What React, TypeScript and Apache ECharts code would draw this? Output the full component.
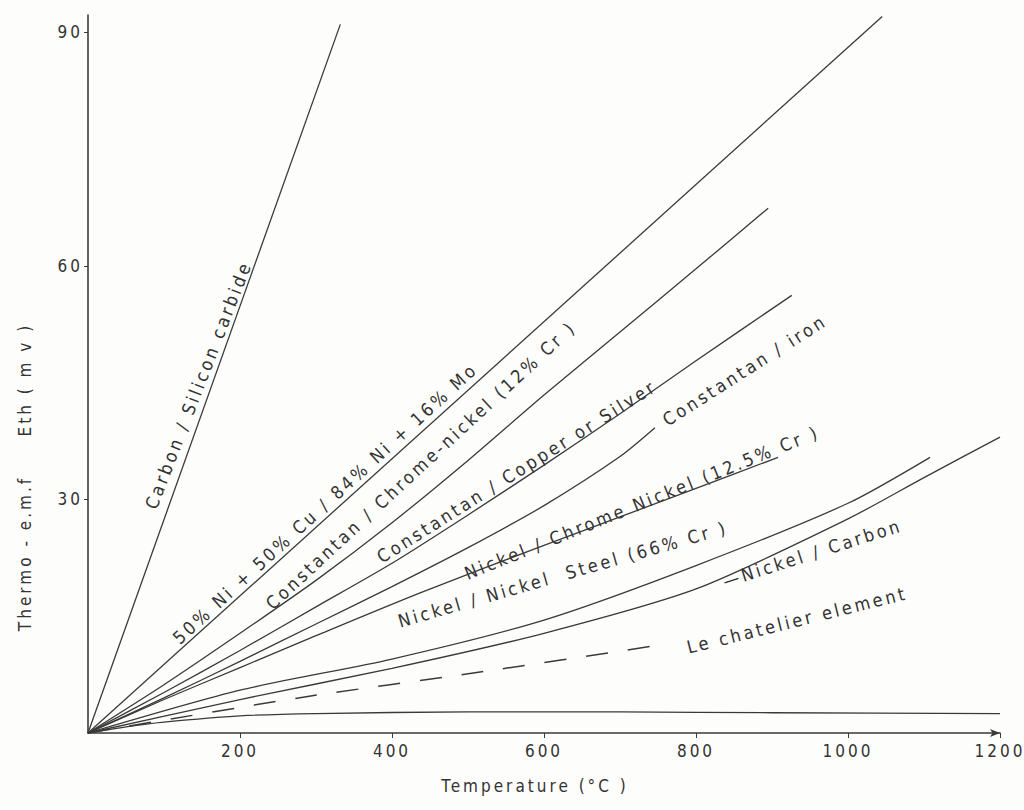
import React, { useEffect, useRef } from "react";
import * as echarts from "echarts";

// ---- data (temperature °C, thermo-e.m.f. mV) ----
const xTicks = [200, 400, 600, 800, 1000, 1200];
const yTicks = [30, 60, 90];

const carbonSiC = [[0, 0], [332, 91]];
const niCuNiMo = [[0, 0], [1045, 92]];
const constChromel = [[0, 0], [100, 6.2], [200, 12.8], [300, 19.6], [400, 27], [500, 35], [600, 43.4], [700, 51.5], [800, 59.6], [895, 67.4]];
const constCopper = [[0, 0], [100, 5.2], [200, 10.6], [300, 16.2], [400, 21.8], [500, 28], [600, 34.4], [700, 41], [800, 47.8], [926, 56.2]];
const constIron = [[0, 0], [100, 4.5], [200, 9.2], [300, 14], [400, 18.8], [500, 23.8], [600, 29.2], [700, 35.5], [746, 39.2]];
const niChromeNi = [[0, 0], [100, 4.3], [200, 8.4], [300, 12.5], [437, 18], [600, 24.1], [800, 31.4], [908, 35.4]];
const niNiSteel = [[0, 0], [200, 5.5], [400, 9.5], [600, 14.5], [800, 21.5], [1000, 29.5], [1108, 35.4]];
const niCarbon = [[0, 0], [200, 4.3], [400, 8.3], [600, 12.8], [800, 18.5], [1000, 27.5], [1100, 32.8], [1200, 38]];
const leChatelier = [[0, 0], [283, 4.6], [507, 7.7], [753, 11.3]];
const lowCurve = [[0, 0], [50, 0.8], [100, 1.4], [200, 2.2], [300, 2.5], [500, 2.7], [700, 2.7], [900, 2.6], [1200, 2.5]];

const labelTexts = [
  "Carbon / Silicon carbide",
  "50% Ni + 50% Cu / 84% Ni + 16% Mo",
  "Constantan / Chrome-nickel (12% Cr )",
  "Constantan / Copper or Silver",
  "Constantan / iron",
  "Nickel / Chrome Nickel (12.5% Cr )",
  "Nickel / Nickel  Steel (66% Cr )",
  "\u2014Nickel / Carbon",
  "Le chatelier element",
];

// annotation layout (data-space anchor of each label centre, rotation in degrees)
const labelLayout = [
  { x: 145, y: 44.7, angle: 68.8 },
  { x: 312, y: 29.5, angle: 42.5 },
  { x: 438, y: 34.4, angle: 42.8 },
  { x: 564, y: 33.6, angle: 32.2 },
  { x: 864, y: 46.6, angle: 32.5 },
  { x: 729, y: 29.6, angle: 22 },
  { x: 625, y: 20.4, angle: 16 },
  { x: 953, y: 23.1, angle: 17.7 },
  { x: 933, y: 14.5, angle: 14 },
];

const INK = "#3a3a3a";
const FONT = "'DejaVu Sans Condensed', 'DejaVu Sans', sans-serif";

export default function App() {
  const ref = useRef<HTMLDivElement>(null);

  useEffect(() => {
    if (!ref.current) return;
    const chart = echarts.init(ref.current, null, { renderer: "svg" });

    const line = (data: number[][], extra: any = {}) => ({
      type: "line",
      data,
      showSymbol: false,
      symbol: "none",
      smooth: data.length > 2 ? 0.25 : false,
      silent: true,
      lineStyle: { color: INK, width: 1.3, ...(extra.lineStyle || {}) },
    });

    chart.setOption({
      animation: false,
      backgroundColor: "#fdfdfb",
      grid: { left: 88, right: 24, top: 15, bottom: 77, containLabel: false },
      xAxis: {
        type: "value",
        min: 0,
        max: 1200,
        interval: 200,
        splitLine: { show: false },
        axisLine: {
          show: true,
          lineStyle: { color: INK, width: 1.6 },
          symbol: ["none", "arrow"],
          symbolSize: [6, 10],
        },
        axisTick: { show: true, customValues: xTicks, length: 5, lineStyle: { color: INK } },
        axisLabel: {
          customValues: xTicks,
          formatter: (v: number) => (v === 0 ? "" : String(v)),
          color: "#333",
          fontFamily: FONT,
          fontSize: 17,
          margin: 9,
        },
      },
      yAxis: {
        type: "value",
        min: 0,
        max: 92.2,
        interval: 30,
        splitLine: { show: false },
        axisLine: { show: true, lineStyle: { color: INK, width: 1.6 } },
        axisTick: { show: true, customValues: yTicks, length: 4, lineStyle: { color: INK } },
        axisLabel: {
          customValues: yTicks,
          formatter: (v: number) => (v === 30 || v === 60 || v === 90 ? String(v) : ""),
          color: "#333",
          fontFamily: FONT,
          fontSize: 17,
          margin: 5,
        },
      },
      series: [
        line(carbonSiC),
        line(niCuNiMo),
        line(constChromel),
        line(constCopper),
        line(constIron),
        line(niChromeNi),
        line(niNiSteel),
        line(niCarbon),
        line(leChatelier, { lineStyle: { type: [22, 20], width: 1.5 } }),
        line(lowCurve),
      ],
    });

    const labelEls = labelLayout.map((l, i) => {
      const p = chart.convertToPixel({ gridIndex: 0 }, [l.x, l.y]) as number[];
      return {
        type: "text",
        x: p[0],
        y: p[1],
        rotation: (l.angle * Math.PI) / 180,
        silent: true,
        style: {
          text: labelTexts[i],
          fill: "#333",
          fontFamily: FONT,
          fontSize: 18,
          align: "center",
          verticalAlign: "middle",
          textAlign: "center",
          textVerticalAlign: "middle",
        },
      };
    });

    chart.setOption({
      graphic: [
        ...labelEls,
        {
          type: "text",
          x: 25,
          y: 477,
          rotation: Math.PI / 2,
          silent: true,
          style: {
            text: "Thermo - e.m.f     Eth ( m v )",
            fill: "#333",
            fontFamily: FONT,
            fontSize: 17,
            align: "center",
            verticalAlign: "middle",
            textAlign: "center",
            textVerticalAlign: "middle",
          },
        },
        {
          type: "text",
          x: 535,
          y: 786,
          silent: true,
          style: {
            text: "Temperature (\u00b0C )",
            fill: "#333",
            fontFamily: FONT,
            fontSize: 17,
            align: "center",
            verticalAlign: "middle",
            textAlign: "center",
            textVerticalAlign: "middle",
          },
        },
      ],
    });

    return () => chart.dispose();
  }, []);

  return (
    <div
      ref={ref}
      style={{
        position: "fixed",
        left: 0,
        top: 0,
        width: 1024,
        height: 810,
        letterSpacing: "3px",
      }}
    />
  );
}
